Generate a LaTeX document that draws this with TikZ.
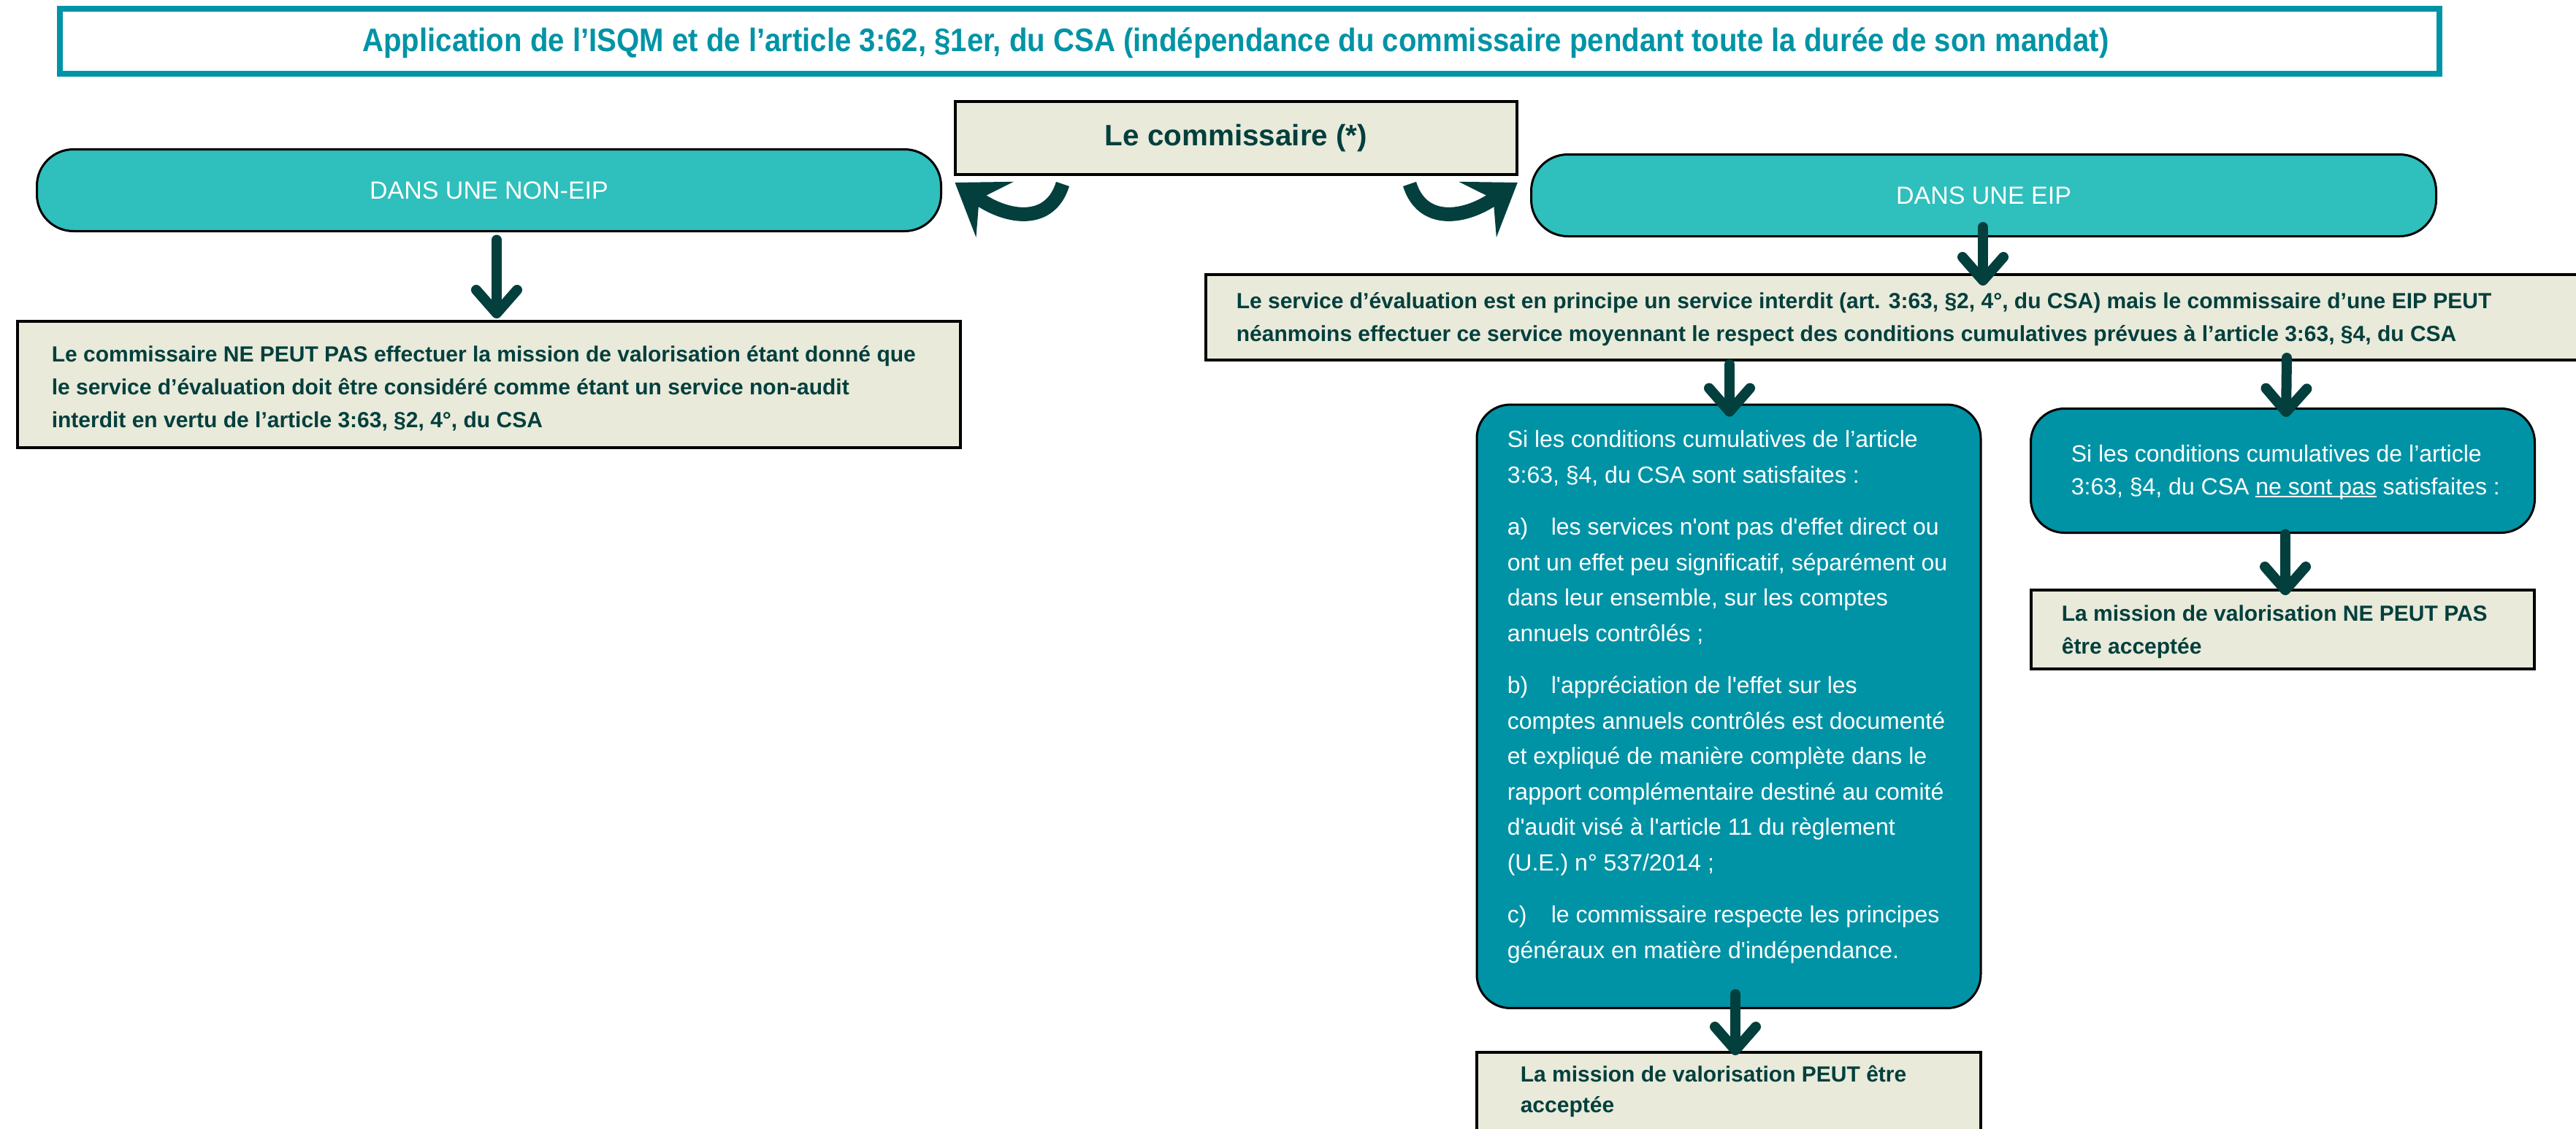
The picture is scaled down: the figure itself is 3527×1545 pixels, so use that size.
\documentclass[tikz,border=0pt]{standalone}
\usepackage{fontspec}
\setmainfont{Liberation Sans}[Ligatures=TeXOff]
\newfontfamily\titlefont{Liberation Sans}[Ligatures=TeXOff,FakeStretch=0.9]
\usetikzlibrary{arrows.meta,calc}
\definecolor{tealT}{HTML}{0093A6}
\definecolor{tealL}{HTML}{2FBFBC}
\definecolor{beigeB}{HTML}{E9EADA}
\definecolor{darkT}{HTML}{033F3D}
\newcommand\mlines[2]{\vtop{\setlength\baselineskip{#1}\setlength\lineskiplimit{-50pt}#2}}
\newcommand\pgap{\vskip5.75pt}
\newcommand\myul[1]{\setbox0\hbox{#1}\rlap{\rule[-1.1pt]{\wd0}{0.5pt}}\box0\relax}
\begin{document}
\begin{tikzpicture}[x=0.25pt,y=-0.25pt,
  boxb/.style={draw=black, fill=beigeB, line width=1pt, inner sep=0pt},
  rbox/.style={draw=black, fill=tealL, line width=0.75pt, rounded corners=12.5pt, inner sep=0pt, text=white, font=\fontsize{8.5pt}{10pt}\selectfont},
  cbox/.style={draw=black, fill=tealT, line width=0.75pt, rounded corners=11.5pt, inner sep=0pt},
  btxt/.style={inner sep=0pt, anchor=base west, text=darkT, font=\bfseries\fontsize{7.5pt}{9pt}\selectfont},
  wtxt/.style={inner sep=0pt, anchor=base west, text=white, font=\fontsize{8pt}{9.6pt}\selectfont},
  arr/.style={draw=darkT, line width=3.5pt, line cap=round, -{Straight Barb[length=8pt,width=14pt,round]}},
  curv/.style={draw=darkT, line width=4.75pt, -{Stealth[length=16.5pt,width=23pt,inset=6.5pt,line width=0pt]}}
]
\fill[white] (0,0) rectangle (3527,1545);
\useasboundingbox (0,0) rectangle (3527,1545);

% title
\node[draw=tealT, line width=2pt, minimum width=814.5pt, minimum height=22.25pt, inner sep=0pt] (title) at (1711,56.5) {};
\node[anchor=base, inner sep=0pt, text=tealT, font=\titlefont\bfseries\fontsize{11.15pt}{13pt}\selectfont] (titletxt) at (1692,70) {Application de l’ISQM et de l’article 3:62, §1er, du CSA (indépendance du commissaire pendant toute la durée de son mandat)};

% commissaire
\node[boxb, minimum width=192.25pt, minimum height=25pt, text=darkT, font=\bfseries\fontsize{10.1pt}{12pt}\selectfont] (comm) at (1692.5,189) {Le commissaire (*)};

% branches
\node[rbox, minimum width=309.5pt, minimum height=28pt] (nonEIP) at (669.5,260.5) {DANS UNE NON-EIP};
\node[rbox, minimum width=309.75pt, minimum height=28pt] (EIP) at (2716,267.5) {DANS UNE EIP};

% non-EIP result
\node[boxb, minimum width=322.75pt, minimum height=43.25pt] (nonEIPbox) at (669.5,526.5) {};
\node[btxt] (nonEIPtxt) at (70,495) {\mlines{11.25pt}{%
\hbox{Le commissaire NE PEUT PAS effectuer la mission de valorisation étant donné que}%
\hbox{le service d’évaluation doit être considéré comme étant un service non-audit}%
\hbox{interdit en vertu de l’article 3:63, §2, 4°, du CSA}}};

% EIP service
\node[boxb, minimum width=476.75pt, minimum height=29.25pt] (serv) at (2604.5,434.5) {};
\node[btxt] (servtxt) at (1692,422) {\mlines{11.25pt}{%
\hbox{Le service d’évaluation est en principe un service interdit (art. 3:63, §2, 4°, du CSA) mais le commissaire d’une EIP PEUT}%
\hbox{néanmoins effectuer ce service moyennant le respect des conditions cumulatives prévues à l’article 3:63, §4, du CSA}}};

% conditions satisfied
\node[cbox, minimum width=172.5pt, minimum height=206.6pt] (cond1) at (2367,967.25) {};
\node[wtxt] (cond1txt) at (2063,612.5) {\mlines{12.125pt}{%
\hbox{Si les conditions cumulatives de l’article}%
\hbox{3:63, §4, du CSA sont satisfaites :}\pgap
\hbox{\makebox[15pt][l]{a)}les services n'ont pas d'effet direct ou}%
\hbox{ont un effet peu significatif, séparément ou}%
\hbox{dans leur ensemble, sur les comptes}%
\hbox{annuels contrôlés ;}\pgap
\hbox{\makebox[15pt][l]{b)}l'appréciation de l'effet sur les}%
\hbox{comptes annuels contrôlés est documenté}%
\hbox{et expliqué de manière complète dans le}%
\hbox{rapport complémentaire destiné au comité}%
\hbox{d'audit visé à l'article 11 du règlement}%
\hbox{(U.E.) n° 537/2014 ;}\pgap
\hbox{\makebox[15pt][l]{c)}le commissaire respecte les principes}%
\hbox{généraux en matière d'indépendance.}}};

% conditions not satisfied
\node[cbox, minimum width=172.5pt, minimum height=42.5pt] (cond2) at (3125.5,644.5) {};
\node[wtxt] (cond2txt) at (2835,632) {\mlines{11.25pt}{%
\hbox{Si les conditions cumulatives de l’article}%
\hbox{3:63, §4, du CSA \myul{ne sont pas} satisfaites :}}};

% results
\node[boxb, minimum width=172.25pt, minimum height=27pt] (res2) at (3125.5,862) {};
\node[btxt] (res2txt) at (2822,850) {\mlines{11.25pt}{%
\hbox{La mission de valorisation NE PEUT PAS}%
\hbox{être acceptée}}};

\node[boxb, minimum width=172.5pt, minimum height=39.75pt] (res1) at (2367,1520.5) {};
\node[btxt] (res1txt) at (2081,1481) {\mlines{10.5pt}{%
\hbox{La mission de valorisation PEUT être}%
\hbox{acceptée}}};

% straight connectors
\draw[arr] ($(nonEIP.south)+(10.5,10.5)$) -- ($(nonEIPbox.north)+(10.5,-2)$);
\draw[arr] ($(EIP.south)+(-1,-14)$) -- ($(EIP.south |- serv.north)+(-1,17)$);
\draw[arr] ($(cond1.north |- serv.south)+(1,4)$) -- ($(cond1.north)+(1,18)$);
\draw[arr] ($(cond2.north |- serv.south)+(5.5,-5)$) -- ($(cond2.north)+(4.5,13)$);
\draw[arr] ($(cond2.south)+(3.5,0.5)$) -- ($(res2.north)+(3.5,9)$);
\draw[arr] ($(cond1.south)+(9,-20.5)$) -- ($(res1.north)+(9,6)$);

% curved connectors
\draw[curv] ($(comm.south west)+(149,11)$) .. controls ($(comm.south west)+(132,66)$) and ($(nonEIP.east)+(91.5,39.5)$) .. ($(nonEIP.east)+(17.5,-10.5)$);
\draw[curv] ($(comm.south east)+(-149,11)$) .. controls ($(comm.south east)+(-132,66)$) and ($(EIP.west)+(-91.25,32.5)$) .. ($(EIP.west)+(-17.25,-17.5)$);
\end{tikzpicture}
\end{document}
